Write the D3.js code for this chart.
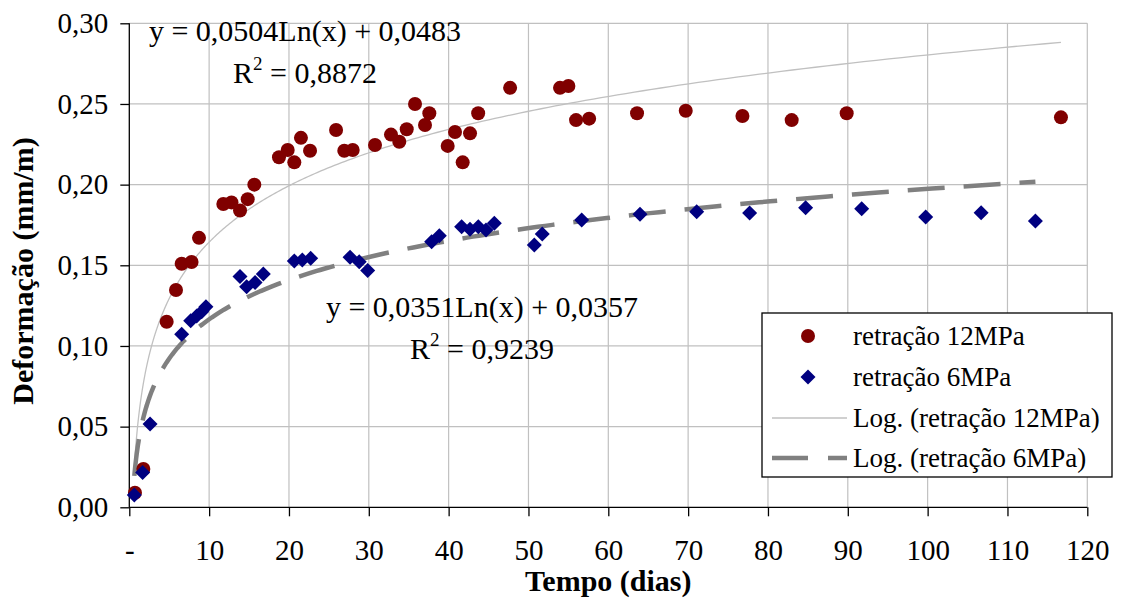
<!DOCTYPE html>
<html><head><meta charset="utf-8">
<script src="https://d3js.org/d3.v7.min.js"></script>
<style>
body{margin:0;background:#fff;}
svg{display:block;}
svg text{font-family:"Liberation Serif",serif !important;}
</style></head>
<body>
<svg id="chart" width="1122" height="599" font-family="Liberation Serif, serif"></svg>
<script>
// ---- data ----
const days12 = [0.71, 1.76, 4.68, 5.85, 6.56, 7.8, 8.73, 11.78, 12.8, 13.87, 14.83, 15.66, 18.75, 19.84, 20.67, 21.5, 22.64, 25.9, 26.93, 27.98, 30.78, 32.78, 33.82, 34.75, 35.79, 37.04, 37.58, 39.88, 40.8, 41.76, 42.68, 43.7, 47.7, 53.95, 55.0, 55.96, 57.6, 63.6, 69.7, 76.8, 82.97, 89.86, 116.7];
const vals12 = [0.009, 0.0237, 0.115, 0.1347, 0.151, 0.152, 0.167, 0.188, 0.189, 0.184, 0.191, 0.200, 0.217, 0.2215, 0.2138, 0.229, 0.221, 0.2339, 0.221, 0.2215, 0.2246, 0.231, 0.2266, 0.2343, 0.250, 0.237, 0.2442, 0.224, 0.2326, 0.2138, 0.2318, 0.2442, 0.260, 0.260, 0.2611, 0.240, 0.2409, 0.2442, 0.2458, 0.2425, 0.240, 0.2442, 0.2417];
const days6 = [0.63, 1.67, 2.6, 6.56, 7.69, 8.44, 9.07, 9.6, 13.87, 14.7, 15.75, 16.79, 20.67, 21.67, 22.72, 27.65, 28.8, 29.86, 37.87, 38.83, 41.63, 42.68, 43.72, 44.68, 45.72, 50.73, 51.73, 56.67, 63.97, 71.07, 77.7, 84.72, 91.74, 99.76, 106.7, 113.5];
const vals6 = [0.0076, 0.0215, 0.0516, 0.1072, 0.1157, 0.1186, 0.1212, 0.1243, 0.143, 0.1367, 0.1394, 0.1446, 0.1527, 0.1533, 0.1543, 0.155, 0.1522, 0.1467, 0.1646, 0.1683, 0.1739, 0.1723, 0.1739, 0.1719, 0.176, 0.1626, 0.1694, 0.1781, 0.1816, 0.1832, 0.1824, 0.1857, 0.1851, 0.180, 0.1826, 0.1775];
// log trendline coefficients [a, b] for y = a*ln(x) + b
const trend12 = [0.0504, 0.0483];
const trend6 = [0.0351, 0.0357];
const r2 = ["0,8872", "0,9239"];
const seriesNames = ["retração 12MPa", "retração 6MPa", "Log. (retração 12MPa)", "Log. (retração 6MPa)"];
const xTickValues = [0, 10, 20, 30, 40, 50, 60, 70, 80, 90, 100, 110, 120];
const yTickValues = [0, 0.05, 0.10, 0.15, 0.20, 0.25, 0.30];
const xTitle = "Tempo (dias)";
const yTitle = "Deformação (mm/m)";

// ---- layout ----
const FONT = "Liberation Serif, serif";
const L = 129.3, R = 1087.3, T = 23.3, B = 507.3;
const svg = d3.select("#chart");
const x = d3.scaleLinear().domain([0, 120]).range([L, R]);
const y = d3.scaleLinear().domain([0, 0.30]).range([B, T]);
const fmtY = v => d3.format(".2f")(v).replace(".", ",");
const fmtCoef = v => d3.format(".4f")(v).replace(".", ",");

// gridlines
const grid = svg.append("g");
grid.selectAll("line.v").data(xTickValues.slice(1)).join("line")
  .attr("x1", d => x(d)).attr("x2", d => x(d)).attr("y1", T).attr("y2", B)
  .attr("stroke", "#c0c0c0").attr("stroke-width", 1.2);
grid.selectAll("line.h").data(yTickValues.slice(1)).join("line")
  .attr("x1", L).attr("x2", R).attr("y1", d => y(d)).attr("y2", d => y(d))
  .attr("stroke", "#c0c0c0").attr("stroke-width", 1.2);

// axes
const xAxis = d3.axisBottom(x).tickValues(xTickValues).tickSize(9).tickPadding(23)
  .tickFormat(d => d === 0 ? "-" : d);
const gx = svg.append("g").attr("transform", `translate(0,${B})`).call(xAxis);
const yAxis = d3.axisLeft(y).tickValues(yTickValues).tickSize(9).tickPadding(12)
  .tickFormat(fmtY);
const gy = svg.append("g").attr("transform", `translate(${L},0)`).call(yAxis);
[gx, gy].forEach(g => {
  g.attr("font-family", FONT).attr("font-size", 29);
  g.select(".domain").attr("stroke", "#000").attr("stroke-width", 1.3);
  g.selectAll(".tick line").attr("stroke", "#000").attr("stroke-width", 1.3);
  g.selectAll(".tick text").attr("fill", "#000").attr("font-family", FONT).attr("font-size", 29);
});
gx.select(".domain").attr("d", `M${L},0H${R}`);
gy.select(".domain").attr("d", `M0,${B}V${T}`);

// trendlines
function trendPath(coef, x0, x1) {
  const pts = d3.range(0, 301).map(i => x0 * Math.pow(x1 / x0, i / 300));
  return d3.line().x(d => x(d)).y(d => y(coef[0] * Math.log(d) + coef[1]))(pts);
}
svg.append("path").attr("d", trendPath(trend12, d3.min(days12), d3.max(days12)))
  .attr("fill", "none").attr("stroke", "#c0c0c0").attr("stroke-width", 1.3);
svg.append("path").attr("d", trendPath(trend6, d3.min(days6), d3.max(days6)))
  .attr("fill", "none").attr("stroke", "#808080").attr("stroke-width", 4.5)
  .attr("stroke-dasharray", "37,19");

// points
svg.append("g").selectAll("circle").data(days12.map((d, i) => [d, vals12[i]])).join("circle")
  .attr("cx", d => x(d[0])).attr("cy", d => y(d[1])).attr("r", 7).attr("fill", "#800000");
const diamondPath = "M0,-7.5L7.5,0L0,7.5L-7.5,0Z";
svg.append("g").selectAll("path").data(days6.map((d, i) => [d, vals6[i]])).join("path")
  .attr("d", diamondPath).attr("transform", d => `translate(${x(d[0])},${y(d[1])})`)
  .attr("fill", "#000080");

// equations
function eq(cx, yb, coef, r) {
  const g = svg.append("g").attr("font-family", FONT).attr("font-size", 30).attr("fill", "#000");
  g.append("text").attr("x", cx).attr("y", yb).attr("text-anchor", "middle")
    .text(`y = ${fmtCoef(coef[0])}Ln(x) + ${fmtCoef(coef[1])}`);
  const t = g.append("text").attr("x", cx).attr("y", yb + 42).attr("text-anchor", "middle");
  t.append("tspan").text("R");
  t.append("tspan").text("2").attr("dy", -13).attr("font-size", 19);
  t.append("tspan").text(" = " + r).attr("dy", 13);
}
eq(305, 41, trend12, r2[0]);
eq(482, 317, trend6, r2[1]);

// axis titles
svg.append("text").attr("x", x(60)).attr("y", 591).attr("text-anchor", "middle")
  .attr("font-family", FONT).attr("font-size", 30).attr("font-weight", "bold").text(xTitle);
svg.append("text").attr("transform", "translate(33,271) rotate(-90)").attr("text-anchor", "middle")
  .attr("font-family", FONT).attr("font-size", 30).attr("font-weight", "bold").text(yTitle);

// legend
const lg = svg.append("g");
lg.append("rect").attr("x", 762).attr("y", 313).attr("width", 350).attr("height", 164)
  .attr("fill", "#fff").attr("stroke", "#000").attr("stroke-width", 1.3);
const ly = [336, 377, 418, 458];
lg.append("circle").attr("cx", 808).attr("cy", ly[0]).attr("r", 7).attr("fill", "#800000");
lg.append("path").attr("d", diamondPath).attr("transform", `translate(808,${ly[1]})`).attr("fill", "#000080");
lg.append("line").attr("x1", 772).attr("x2", 847).attr("y1", ly[2]).attr("y2", ly[2])
  .attr("stroke", "#c0c0c0").attr("stroke-width", 1.3);
lg.append("line").attr("x1", 772).attr("x2", 847).attr("y1", ly[3]).attr("y2", ly[3])
  .attr("stroke", "#808080").attr("stroke-width", 4.5).attr("stroke-dasharray", "36,20");
lg.selectAll("text.lt").data(seriesNames).join("text")
  .attr("x", 853).attr("y", (d, i) => ly[i]).attr("dy", "0.35em")
  .attr("font-family", FONT).attr("font-size", 27).text(d => d);
</script>
</body></html>
